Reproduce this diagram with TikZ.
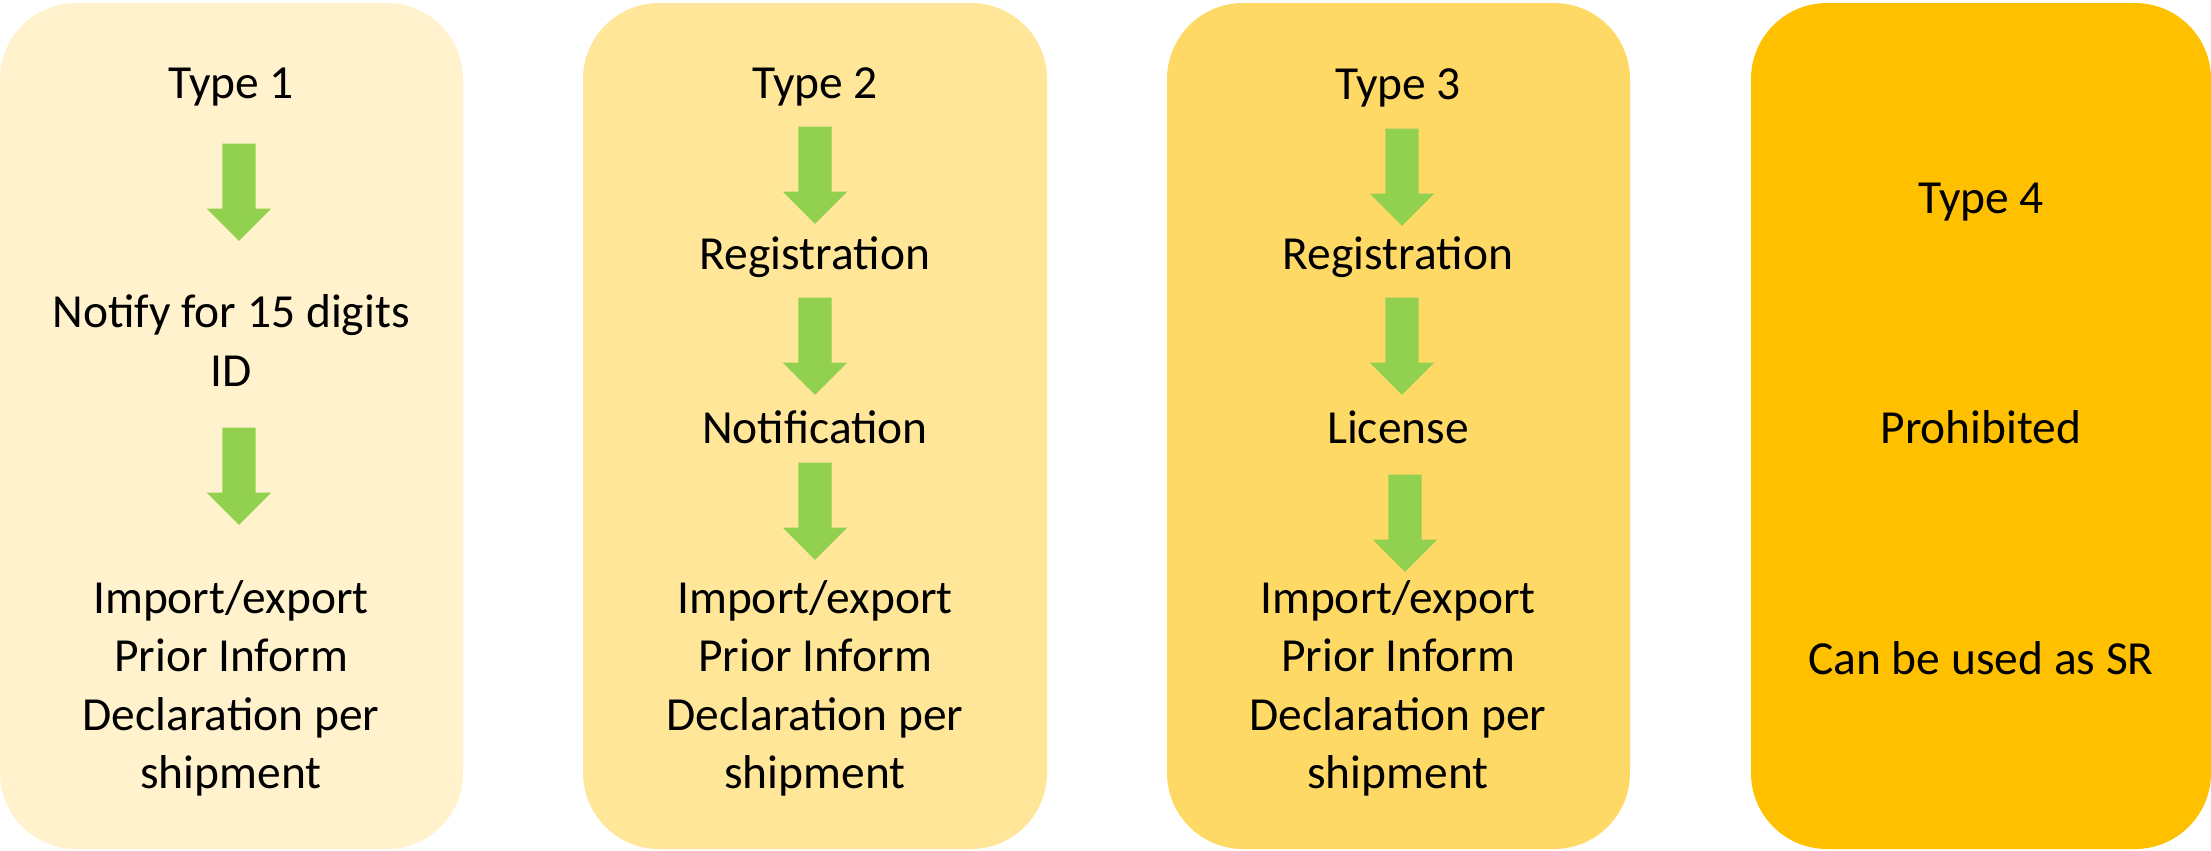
\documentclass[tikz,border=0pt]{standalone}
\usepackage{fontspec}
\setmainfont{Carlito}
\usetikzlibrary{shapes.arrows}
\definecolor{typeone}{HTML}{FFF2CC}
\definecolor{typetwo}{HTML}{FFE699}
\definecolor{typethree}{HTML}{FFD966}
\definecolor{typefour}{HTML}{FFC000}
\definecolor{stepgreen}{HTML}{92D050}
\begin{document}
\begin{tikzpicture}[x=0.01cm,y=-0.01cm,
  lane/.style={rounded corners=0.76cm},
  txt/.style={anchor=base,align=center,inner sep=0pt,font=\fontsize{13.5pt}{16.5pt}\selectfont},
  down/.style={single arrow,fill=stepgreen,draw=none,rotate=-90,anchor=west,
    inner xsep=0pt,inner ysep=0.16cm,minimum height=0.97cm,single arrow head extend=0.155cm}]
\useasboundingbox (0,0) rectangle (2211,850);
\fill[lane,typeone] (0,3) rectangle (463,849);
\fill[lane,typetwo] (583,3) rectangle (1047,849);
\fill[lane,typethree] (1167,3) rectangle (1630,849);
\fill[lane,typefour] (1751,3) rectangle (2211,849);
% Type 1
\node[txt] (t1) at (231,98) {Type 1};
\node[down] (t1a) at (239,143) {};
\node[txt] (t1n) at (231,386) {Notify for 15 digits\\ID};
\node[down] (t1b) at (239,427) {};
\node[txt] (t1d) at (231,788) {Import/export\\Prior Inform\\Declaration per\\shipment};
% Type 2
\node[txt] (t2) at (815,98) {Type 2};
\node[down] (t2a) at (815,126) {};
\node[txt] (t2r) at (815,269) {Registration};
\node[down] (t2b) at (815,297) {};
\node[txt] (t2n) at (815,443) {Notification};
\node[down] (t2c) at (815,462) {};
\node[txt] (t2d) at (815,788) {Import/export\\Prior Inform\\Declaration per\\shipment};
% Type 3
\node[txt] (t3) at (1398,99) {Type 3};
\node[down] (t3a) at (1402,128) {};
\node[txt] (t3r) at (1398,269) {Registration};
\node[down] (t3b) at (1402,297) {};
\node[txt] (t3l) at (1398,443) {License};
\node[down] (t3c) at (1405,474) {};
\node[txt] (t3d) at (1398,788) {Import/export\\Prior Inform\\Declaration per\\shipment};
% Type 4
\node[txt] (t4) at (1981,213) {Type 4};
\node[txt] (t4p) at (1981,443) {Prohibited};
\node[txt] (t4s) at (1981,674) {Can be used as SR};
\end{tikzpicture}
\end{document}
